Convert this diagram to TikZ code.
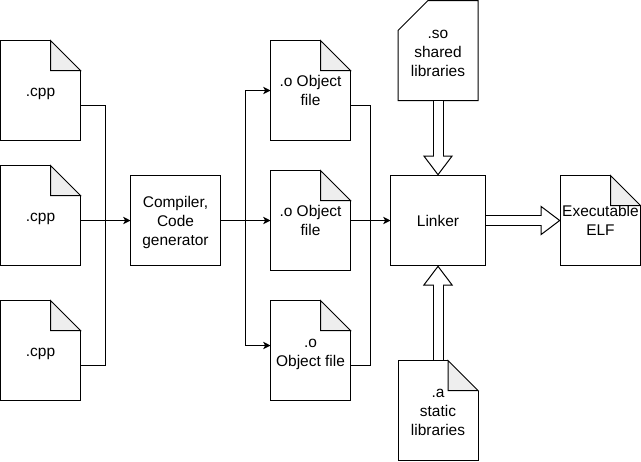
\documentclass[tikz,border=0pt]{standalone}
\usepackage{fontspec}
\setmainfont{Liberation Sans}
\usetikzlibrary{arrows.meta,positioning}
\definecolor{foldgray}{HTML}{EEEEEE}
\newcommand{\toppad}[1]{\rule{0pt}{#1}}

\begin{document}
\begin{tikzpicture}[
  font=\fontsize{11.6}{14.25}\selectfont,
  line width=.75pt,
  docfile/.style={align=center, inner sep=0pt, outer sep=0pt,
    minimum width=60pt, minimum height=75pt},
  box/.style={draw, align=center, inner sep=0pt, outer sep=0pt,
    minimum height=67.5pt},
  cpptext/.style={text height=9.5pt, text depth=0pt},
  arrow/.style={-{Stealth[length=5.5pt,width=5.5pt,inset=1.5pt]}},
  block/.style={double, double distance=6.75pt, shorten <=.375pt,
    -{Triangle[open,fill=white,length=15pt,width=22.5pt]},
    postaction={draw=white, double=none, -, line width=6.75pt,
      shorten >=14pt, shorten <=.5pt}}
]
\useasboundingbox (0,0) rectangle (480.75pt,-345.75pt);

\node[docfile, cpptext] (cppa) at (30.375pt,-67.875pt) {.cpp};
\node[docfile, cpptext, below=18.75pt of cppa] (cppb) {.cpp};
\node[docfile, cpptext, below=26.25pt of cppb] (cppc) {.cpp};
\node[box, minimum width=67.5pt, right=37.5pt of cppb, yshift=-3.75pt] (comp) {\toppad{11.3pt}Compiler,\\Code\\generator};

\node[docfile, right=37.5pt of comp] (objb) {.o Object\\file};
\node[docfile, above=22.5pt of objb] (obja) {.o Object\\file};
\node[docfile, below=22.5pt of objb] (objc) {\toppad{12.2pt}.o\\Object file};

\node[box, minimum width=71.25pt, right=30pt of objb] (link) {Linker};
\node[docfile, above=56.25pt of link] (shared) {\toppad{10.7pt}.so\\shared\\libraries};
\node[docfile, below=71.25pt of link] (static) {\toppad{9.2pt}.a\\static\\libraries};
\node[docfile, minimum height=67.5pt, right=56.25pt of link] (elf) {Executable\\ELF};

% file outlines
\foreach \f in {cppa,cppb,cppc,obja,objb,objc,static,elf} {
  \draw ([xshift=-22.5pt]\f.north east) -- (\f.north west) -- (\f.south west)
    -- (\f.south east) -- ([yshift=-22.5pt]\f.north east);
  \filldraw[fill=foldgray] ([xshift=-22.5pt]\f.north east) -- ([yshift=-22.5pt]\f.north east)
    -- ([shift={(-22.5pt,-22.5pt)}]\f.north east) -- cycle;
}
\draw ([xshift=22.5pt]shared.north west) -- (shared.north east) -- (shared.south east)
  -- (shared.south west) -- ([yshift=-22.5pt]shared.north west) -- cycle;

\coordinate (inbus) at ([xshift=-18.75pt]comp.west);
\coordinate (outbus) at ([xshift=18.75pt]comp.east);
\coordinate (linkbus) at ([xshift=-15pt]link.west);

\draw ([yshift=-11.25pt]cppa.east) -| (inbus);
\draw ([yshift=-11.25pt]cppc.east) -| (inbus);
\draw[arrow] ([yshift=-3.75pt]cppb.east) -- (comp.west);

\draw[arrow] (comp.east) -- (objb.west);
\draw[arrow] (outbus) |- (obja.west);
\draw[arrow] (outbus) |- ([yshift=3.75pt]objc.west);

\draw ([yshift=-11.25pt]obja.east) -| (linkbus);
\draw ([yshift=-11.25pt]objc.east) -| (linkbus);
\draw[arrow] (objb.east) -- (link.west);

\draw[block] (shared.south) -- (link.north);
\draw[block] (static.north) -- (link.south);
\draw[block] (link.east) -- (elf.west);
\end{tikzpicture}
\end{document}
